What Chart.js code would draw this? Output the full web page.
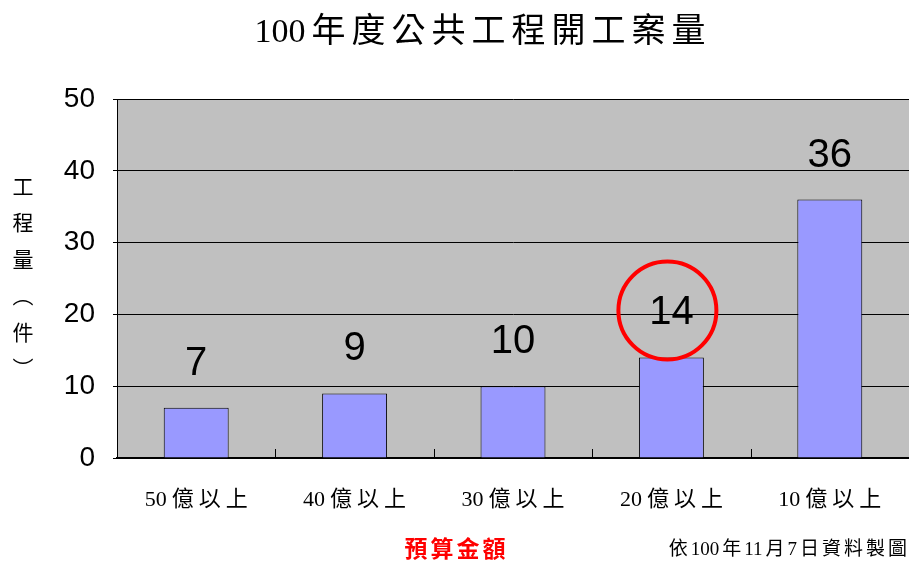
<!DOCTYPE html>
<html>
<head>
<meta charset="utf-8">
<script src="https://cdn.jsdelivr.net/npm/chart.js@4"></script>
<style>
  html, body { margin: 0; padding: 0; background: #fff; }
  #wrap { width: 909px; height: 563px; position: relative; }
</style>
</head>
<body>
<div id="wrap"><canvas id="grafico"></canvas></div>
<script>
// Datos del gráfico
const categorias = ['50億以上', '40億以上', '30億以上', '20億以上', '10億以上'];
const cantidades = [7, 9, 10, 14, 36];
const titulo = '100年度公共工程開工案量';
const tituloEjeY = ['工', '程', '量', '︵', '件', '︶'];
const tituloEjeX = '預算金額';
const nota = '依100年11月7日資料製圖';
const indiceMarcado = 3;

const fuenteSerif = '"Liberation Serif", "Noto Sans CJK TC", serif';
const fuenteCJK = '"Noto Sans CJK TC", "Liberation Serif", sans-serif';

// Dibuja texto con espaciado solo entre caracteres CJK (los dígitos quedan juntos)
function textoEspaciado(ctx, texto, x, y, espacio, alinear) {
    const trozos = texto.match(/[0-9]+|[^0-9]/g);
    const anchos = trozos.map(t => ctx.measureText(t).width);
    let total = 0;
    anchos.forEach((w, i) => { total += w + (i < anchos.length - 1 ? espacio : 0); });
    let px = alinear === 'right' ? x - total : (alinear === 'center' ? x - total / 2 : x);
    ctx.save();
    ctx.textAlign = 'left';
    ctx.letterSpacing = '0px';
    trozos.forEach((t, i) => {
        ctx.fillText(t, px, y);
        px += anchos[i] + espacio;
    });
    ctx.restore();
}

// Fondo gris del área de trazado
const fondoArea = {
    id: 'fondoArea',
    beforeDraw(chart) {
        const { ctx, chartArea: a } = chart;
        ctx.save();
        ctx.fillStyle = '#C0C0C0';
        ctx.fillRect(a.left, a.top, a.right - a.left, a.bottom - a.top);
        ctx.restore();
    }
};

// Textos, etiquetas de valores y círculo
const textos = {
    id: 'textos',
    afterDraw(chart) {
        const { ctx, chartArea: a } = chart;
        const x = chart.scales.x;
        ctx.save();

        // marcas hacia adentro entre categorías
        ctx.strokeStyle = '#000';
        ctx.lineWidth = 1;
        for (let i = 0; i < categorias.length - 1; i++) {
            const px = Math.round((x.getPixelForTick(i) + x.getPixelForTick(i + 1)) / 2) + 0.5;
            ctx.beginPath();
            ctx.moveTo(px, a.bottom);
            ctx.lineTo(px, a.bottom - 9);
            ctx.stroke();
        }

        // etiquetas de categorías
        ctx.fillStyle = '#000';
        ctx.font = '22px ' + fuenteSerif;
        ctx.textBaseline = 'middle';
        categorias.forEach((c, i) => {
            textoEspaciado(ctx, c, x.getPixelForTick(i), a.bottom + 42, 5, 'center');
        });

        // etiquetas de valores
        const meta = chart.getDatasetMeta(0);
        ctx.font = '40px "Liberation Sans", Arial, sans-serif';
        ctx.textAlign = 'center';
        ctx.textBaseline = 'alphabetic';
        meta.data.forEach((bar, i) => {
            ctx.fillText(String(cantidades[i]), bar.x, bar.y - 33);
        });

        // círculo rojo
        const marcado = meta.data[indiceMarcado];
        ctx.strokeStyle = '#FF0000';
        ctx.lineWidth = 4;
        ctx.beginPath();
        ctx.arc(marcado.x - 4, marcado.y - 47, 49, 0, Math.PI * 2);
        ctx.stroke();

        // título
        ctx.fillStyle = '#000';
        ctx.font = '34px ' + fuenteSerif;
        ctx.textBaseline = 'middle';
        textoEspaciado(ctx, titulo, 480, 33, 6, 'center');

        // título eje Y vertical
        ctx.font = '21px ' + fuenteCJK;
        tituloEjeY.forEach((c, i) => {
            ctx.fillText(c, 23, 186 + i * 36.5);
        });

        // título eje X
        ctx.fillStyle = '#FF0000';
        ctx.font = 'bold 23px ' + fuenteCJK;
        textoEspaciado(ctx, tituloEjeX, 455, 548, 3, 'center');

        // nota
        ctx.fillStyle = '#000';
        ctx.font = '19px ' + fuenteSerif;
        textoEspaciado(ctx, nota, 907, 550, 3, 'right');
        ctx.restore();
    }
};

new Chart(document.getElementById('grafico'), {
    type: 'bar',
    data: {
        labels: categorias,
        datasets: [{
            data: cantidades,
            backgroundColor: '#9999FF',
            borderColor: '#000000',
            borderWidth: 1,
            categoryPercentage: 1,
            barPercentage: 0.41
        }]
    },
    options: {
        responsive: true,
        maintainAspectRatio: false,
        animation: false,
        layout: {
            padding: { top: 99, right: 0, bottom: 0, left: 0 }
        },
        plugins: {
            legend: { display: false },
            title: { display: false },
            tooltip: { enabled: false }
        },
        scales: {
            x: {
                afterFit(scale) { scale.height = 105; },
                grid: { display: false },
                border: { color: '#000', width: 2 },
                ticks: { display: false }
            },
            y: {
                min: 0,
                max: 50,
                afterFit(scale) { scale.width = 117; },
                grid: { color: '#000', lineWidth: 1, tickLength: 4 },
                border: { color: '#000', width: 1 },
                ticks: {
                    stepSize: 10,
                    color: '#000',
                    padding: 18,
                    font: { family: '"Liberation Sans", Arial, sans-serif', size: 28 }
                }
            }
        }
    },
    plugins: [fondoArea, textos]
});
</script>
</body>
</html>
